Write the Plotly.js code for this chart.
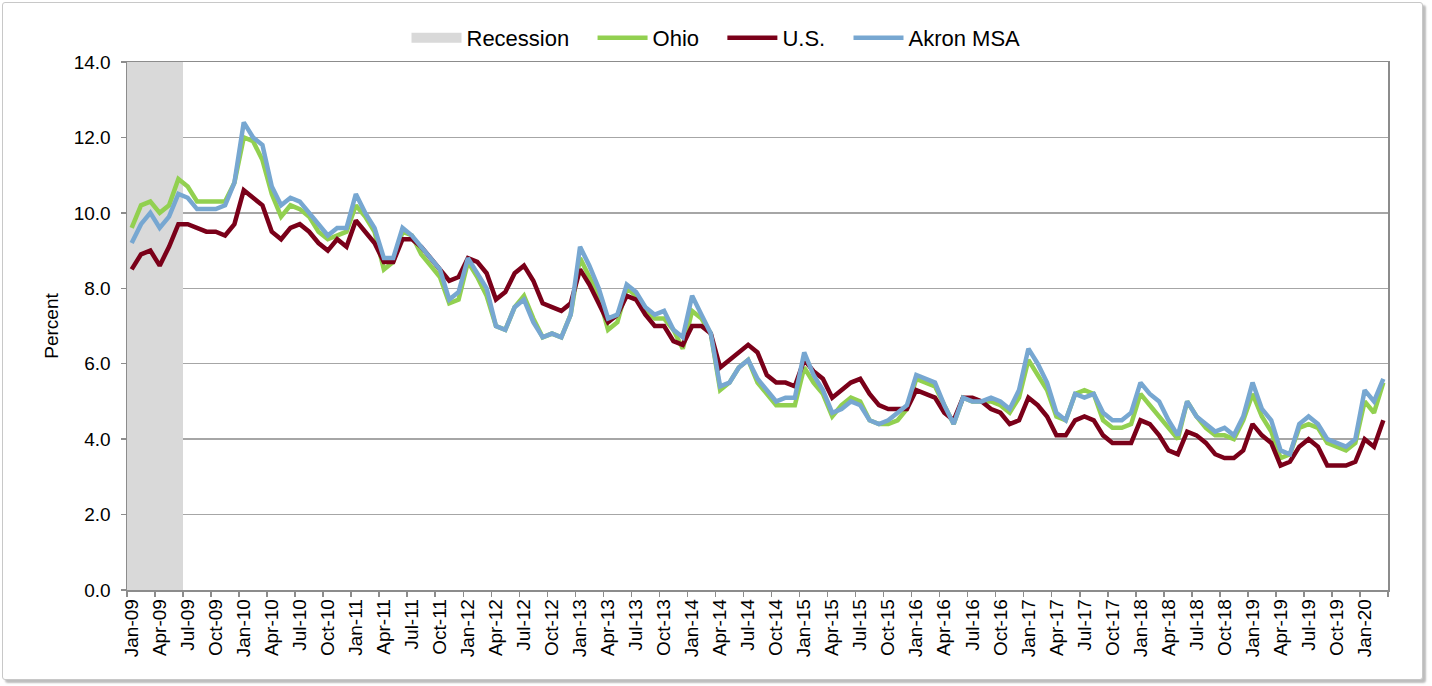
<!DOCTYPE html>
<html>
<head>
<meta charset="utf-8">
<script src="https://cdn.plot.ly/plotly-3.0.1.min.js"></script>
<style>
  html, body { margin: 0; padding: 0; background: #ffffff; }
  #frame { position: absolute; left: 2px; top: 2px; width: 1419px; height: 676px;
           border: 1px solid #c8c8c8; border-radius: 3px; box-shadow: 3px 3px 2px #bdbdbd; background: #fff; }
  #chart { position: absolute; left: 0; top: 0; width: 1432px; height: 686px; }
</style>
</head>
<body>
<div id="frame"></div>
<div id="chart"></div>
<script>
// Monthly unemployment rate (%), Jan-09 .. Mar-20
const startYear = 2009;
const monthNames = ['Jan','Feb','Mar','Apr','May','Jun','Jul','Aug','Sep','Oct','Nov','Dec'];

const ohio = [
  9.6, 10.2, 10.3, 10.0, 10.2, 10.9, 10.7, 10.3, 10.3, 10.3, 10.3, 10.8,
  12.0, 11.9, 11.4, 10.5, 9.9, 10.2, 10.1, 9.9, 9.5, 9.3, 9.4, 9.5,
  10.2, 9.9, 9.5, 8.5, 8.7, 9.5, 9.4, 8.9, 8.6, 8.3, 7.6, 7.7,
  8.7, 8.3, 7.8, 7.0, 6.9, 7.5, 7.8, 7.2, 6.7, 6.8, 6.7, 7.3,
  8.8, 8.3, 7.8, 6.9, 7.1, 8.0, 7.8, 7.4, 7.2, 7.2, 6.9, 6.4,
  7.4, 7.2, 6.8, 5.3, 5.5, 5.9, 6.1, 5.5, 5.2, 4.9, 4.9, 4.9,
  5.9, 5.5, 5.2, 4.6, 4.9, 5.1, 5.0, 4.5, 4.4, 4.4, 4.5, 4.8,
  5.6, 5.5, 5.4, 4.9, 4.4, 5.1, 5.0, 5.0, 5.0, 4.9, 4.7, 5.1,
  6.1, 5.7, 5.3, 4.6, 4.5, 5.2, 5.3, 5.2, 4.5, 4.3, 4.3, 4.4,
  5.2, 4.9, 4.6, 4.3, 4.0, 5.0, 4.6, 4.3, 4.1, 4.1, 4.0, 4.5,
  5.2, 4.6, 4.2, 3.5, 3.6, 4.3, 4.4, 4.3, 3.9, 3.8, 3.7, 3.9,
  5.0, 4.7, 5.5
];

const us = [
  8.5, 8.9, 9.0, 8.6, 9.1, 9.7, 9.7, 9.6, 9.5, 9.5, 9.4, 9.7,
  10.6, 10.4, 10.2, 9.5, 9.3, 9.6, 9.7, 9.5, 9.2, 9.0, 9.3, 9.1,
  9.8, 9.5, 9.2, 8.7, 8.7, 9.3, 9.3, 9.1, 8.8, 8.5, 8.2, 8.3,
  8.8, 8.7, 8.4, 7.7, 7.9, 8.4, 8.6, 8.2, 7.6, 7.5, 7.4, 7.6,
  8.5, 8.1, 7.6, 7.1, 7.3, 7.8, 7.7, 7.3, 7.0, 7.0, 6.6, 6.5,
  7.0, 7.0, 6.8, 5.9, 6.1, 6.3, 6.5, 6.3, 5.7, 5.5, 5.5, 5.4,
  6.1, 5.8, 5.6, 5.1, 5.3, 5.5, 5.6, 5.2, 4.9, 4.8, 4.8, 4.8,
  5.3, 5.2, 5.1, 4.7, 4.5, 5.1, 5.1, 5.0, 4.8, 4.7, 4.4, 4.5,
  5.1, 4.9, 4.6, 4.1, 4.1, 4.5, 4.6, 4.5, 4.1, 3.9, 3.9, 3.9,
  4.5, 4.4, 4.1, 3.7, 3.6, 4.2, 4.1, 3.9, 3.6, 3.5, 3.5, 3.7,
  4.4, 4.1, 3.9, 3.3, 3.4, 3.8, 4.0, 3.8, 3.3, 3.3, 3.3, 3.4,
  4.0, 3.8, 4.5
];

const akron = [
  9.2, 9.7, 10.0, 9.6, 9.9, 10.5, 10.4, 10.1, 10.1, 10.1, 10.2, 10.8,
  12.4, 12.0, 11.8, 10.7, 10.2, 10.4, 10.3, 10.0, 9.7, 9.4, 9.6, 9.6,
  10.5, 10.0, 9.6, 8.8, 8.8, 9.6, 9.4, 9.1, 8.8, 8.5, 7.7, 7.9,
  8.8, 8.4, 8.0, 7.0, 6.9, 7.5, 7.7, 7.1, 6.7, 6.8, 6.7, 7.3,
  9.1, 8.6, 8.0, 7.2, 7.3, 8.1, 7.9, 7.5, 7.3, 7.4, 6.9, 6.7,
  7.8, 7.3, 6.8, 5.4, 5.5, 5.9, 6.1, 5.6, 5.3, 5.0, 5.1, 5.1,
  6.3, 5.7, 5.3, 4.7, 4.8, 5.0, 4.9, 4.5, 4.4, 4.5, 4.7, 4.9,
  5.7, 5.6, 5.5, 4.9, 4.4, 5.1, 5.0, 5.0, 5.1, 5.0, 4.8, 5.3,
  6.4, 6.0, 5.5, 4.7, 4.5, 5.2, 5.1, 5.2, 4.7, 4.5, 4.5, 4.7,
  5.5, 5.2, 5.0, 4.5, 4.1, 5.0, 4.6, 4.4, 4.2, 4.3, 4.1, 4.6,
  5.5, 4.8, 4.5, 3.7, 3.6, 4.4, 4.6, 4.4, 4.0, 3.9, 3.8, 4.0,
  5.3, 5.0, 5.6
];

// Recession months (Jan-09 .. Jun-09) drawn as full-height bars
const recessionMonths = ['Jan-09','Feb-09','Mar-09','Apr-09','May-09','Jun-09'];
const recessionTop = 14;

const tickLabels = ['Jan-09','Apr-09','Jul-09','Oct-09','Jan-10','Apr-10','Jul-10','Oct-10',
  'Jan-11','Apr-11','Jul-11','Oct-11','Jan-12','Apr-12','Jul-12','Oct-12',
  'Jan-13','Apr-13','Jul-13','Oct-13','Jan-14','Apr-14','Jul-14','Oct-14',
  'Jan-15','Apr-15','Jul-15','Oct-15','Jan-16','Apr-16','Jul-16','Oct-16',
  'Jan-17','Apr-17','Jul-17','Oct-17','Jan-18','Apr-18','Jul-18','Oct-18',
  'Jan-19','Apr-19','Jul-19','Oct-19','Jan-20'];

// category labels for each month and their positions on the axis
const monthLabels = ohio.map((_, i) =>
  monthNames[i % 12] + '-' + String((startYear + Math.floor(i / 12)) % 100).padStart(2, '0'));
const pos = monthLabels.map((_, i) => i);
const posOf = lab => monthLabels.indexOf(lab);

const FONT = 'Liberation Sans, Arial, sans-serif';
const GAP = '\u00a0\u00a0\u00a0';

const traces = [
  { type: 'bar', x: recessionMonths.map(posOf), y: recessionMonths.map(() => recessionTop),
    width: 1, marker: { color: '#d9d9d9', line: { width: 0 } }, showlegend: false, hoverinfo: 'skip' },
  { type: 'scatter', mode: 'lines', x: [null], y: [null], name: 'Recession' + GAP,
    line: { color: '#d9d9d9', width: 11 } },
  { type: 'scatter', mode: 'lines', x: pos, y: ohio, name: 'Ohio' + GAP,
    line: { color: '#92d050', width: 4.5 } },
  { type: 'scatter', mode: 'lines', x: pos, y: us, name: 'U.S.' + GAP,
    line: { color: '#7a0019', width: 4.5 } },
  { type: 'scatter', mode: 'lines', x: pos, y: akron, name: 'Akron MSA',
    line: { color: '#77a7d1', width: 4.5 } }
];

const layout = {
  width: 1432, height: 686,
  paper_bgcolor: 'rgba(0,0,0,0)', plot_bgcolor: '#ffffff',
  margin: { l: 127, r: 44, t: 62, b: 96, pad: 0 },
  font: { family: FONT, size: 19, color: '#000' },
  bargap: 0,
  showlegend: true,
  legend: { orientation: 'h', xref: 'container', yref: 'container',
            x: 0.5, xanchor: 'center', y: 1 - 38 / 686, yanchor: 'middle',
            font: { family: FONT, size: 22, color: '#000' }, itemwidth: 50, traceorder: 'normal',
            bgcolor: 'rgba(0,0,0,0)' },
  xaxis: {
    type: 'linear', range: [-0.5, pos.length - 0.5], fixedrange: true,
    tickmode: 'array', tickvals: tickLabels.map(posOf), ticktext: tickLabels,
    ticks: '', tickangle: -90, tickfont: { family: FONT, size: 19 },
    showgrid: false, zeroline: false,
    showline: true, linecolor: '#8c8c8c', linewidth: 1.5, mirror: true,
    minor: { tickmode: 'linear', tick0: -0.5, dtick: 3, ticks: 'outside', ticklen: 5,
             tickcolor: '#8c8c8c', tickwidth: 1.5, showgrid: false }
  },
  yaxis: {
    range: [0, 14], dtick: 2, tick0: 0, tickformat: '.1f', fixedrange: true,
    ticks: 'outside', ticklen: 5, tickcolor: '#8c8c8c', tickwidth: 1.5,
    tickfont: { family: FONT, size: 19 }, ticklabelstandoff: 6,
    showgrid: true, gridcolor: '#a6a6a6', gridwidth: 1.5,
    zeroline: false, showline: true, linecolor: '#8c8c8c', linewidth: 1.5, mirror: true,
    title: { text: 'Percent', font: { family: FONT, size: 19 }, standoff: 10 }
  }
};

Plotly.newPlot('chart', traces, layout, { displayModeBar: false, staticPlot: true });
</script>
</body>
</html>
